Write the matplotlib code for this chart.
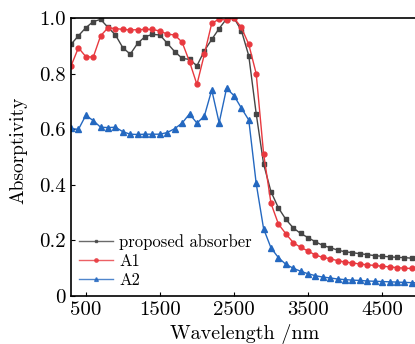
import numpy as np
import matplotlib
matplotlib.use("Agg")
import matplotlib.pyplot as plt

wavelength = np.arange(300, 5001, 100)

proposed = [0.905, 0.936, 0.965, 0.987, 0.995, 0.966, 0.939, 0.893, 0.870, 0.909,
            0.933, 0.941, 0.939, 0.909, 0.879, 0.855, 0.851, 0.828, 0.882, 0.923,
            0.962, 0.997, 1.000, 0.955, 0.864, 0.656, 0.475, 0.375, 0.317, 0.276,
            0.245, 0.225, 0.210, 0.195, 0.182, 0.174, 0.165, 0.159, 0.156, 0.152,
            0.149, 0.145, 0.143, 0.141, 0.139, 0.138, 0.136, 0.135]

a1 = [0.827, 0.893, 0.861, 0.859, 0.936, 0.965, 0.962, 0.959, 0.957, 0.958,
      0.959, 0.959, 0.953, 0.942, 0.939, 0.913, 0.843, 0.761, 0.869, 0.981,
      0.996, 0.992, 1.000, 0.966, 0.905, 0.800, 0.512, 0.333, 0.259, 0.224,
      0.192, 0.175, 0.162, 0.147, 0.139, 0.134, 0.127, 0.122, 0.119, 0.115,
      0.112, 0.110, 0.107, 0.105, 0.102, 0.100, 0.099, 0.096]

a2 = [0.603, 0.599, 0.650, 0.631, 0.607, 0.606, 0.607, 0.591, 0.582, 0.581,
      0.582, 0.582, 0.582, 0.588, 0.602, 0.622, 0.655, 0.622, 0.647, 0.741,
      0.623, 0.747, 0.721, 0.676, 0.633, 0.405, 0.242, 0.173, 0.138, 0.114,
      0.100, 0.089, 0.080, 0.073, 0.068, 0.065, 0.061, 0.059, 0.057, 0.056,
      0.054, 0.053, 0.052, 0.051, 0.050, 0.049, 0.048, 0.047]

x_ticks = [500, 1500, 2500, 3500, 4500]
y_ticks = [0, 0.2, 0.4, 0.6, 0.8, 1.0]
y_tick_labels = ["0", "0.2", "0.4", "0.6", "0.8", "1.0"]

plt.rcParams["font.family"] = ["cmr10", "DejaVu Serif"]
plt.rcParams["mathtext.fontset"] = "cm"

fig = plt.figure(figsize=(4.15, 3.44), dpi=100)
ax_w = 1 - 71 / 415 + 0.01
ax = fig.add_axes([71 / 415, 48 / 344, ax_w, (296 - 18) / 344])

ax.plot(wavelength, proposed, color="#454545", marker="s", ms=3.0, lw=1.0,
        label="proposed absorber")
ax.plot(wavelength, a1, color="#e8393f", marker="o", ms=3.5, lw=1.0, label="A1")
ax.plot(wavelength, a2, color="#2468c0", marker="^", ms=3.9, lw=1.0, label="A2")

ax.set_xlim(300, 5000)
ax.set_ylim(0, 1.0)
ax.set_xticks(x_ticks)
ax.set_xticklabels([str(t) for t in x_ticks])
ax.set_yticks(y_ticks)
ax.set_yticklabels(y_tick_labels)
ax.tick_params(direction="in", length=3, width=0.8, labelsize=15, pad=4)
ax.spines["right"].set_visible(False)
for s in ["left", "bottom", "top"]:
    ax.spines[s].set_linewidth(1.2)

ax.set_xlabel("Wavelength /nm", fontsize=14.5, labelpad=3)
ax.set_ylabel("Absorptivity", fontsize=14)
ax.yaxis.set_label_coords(-44 / (415 * ax_w), 0.525)

leg = ax.legend(loc="lower left", bbox_to_anchor=(0.0, 0.0), frameon=False,
                fontsize=12, markerscale=0.7, handlelength=2.0,
                handletextpad=0.4, labelspacing=0.22, borderaxespad=0.35,
                borderpad=0.15)
for h in leg.get_lines():
    h.set_alpha(0.8)

fig.savefig("out.png", dpi=100)
